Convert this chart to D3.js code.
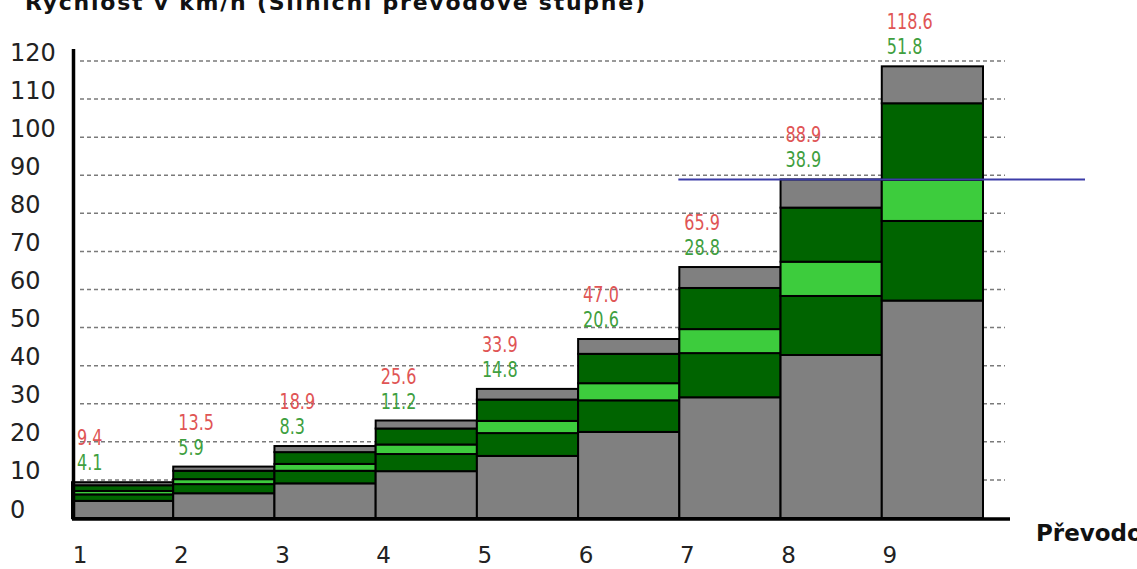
<!DOCTYPE html>
<html>
<head>
<meta charset="utf-8">
<script src="https://cdn.jsdelivr.net/npm/d3@7/dist/d3.min.js"></script>
<style>
  body { margin: 0; background: #fff; overflow: hidden; }
  svg { display: block; font-family: "DejaVu Sans", Verdana, sans-serif; }
</style>
</head>
<body>
<div id="chart"></div>
<script>
// gears and speeds (km/h)
const gears = ['1', '2', '3', '4', '5', '6', '7', '8', '9'];
const maxSpeed = [9.4, 13.5, 18.9, 25.6, 33.9, 47.0, 65.9, 88.9, 118.6];
const lowSpeed = [4.1, 5.9, 8.3, 11.2, 14.8, 20.6, 28.8, 38.9, 51.8];
// band boundaries inside each bar (bottom to top)
const grayTop = [4.5, 6.5, 9.1, 12.3, 16.3, 22.6, 31.7, 42.8, 57.1];
const darkLowTop = [6.2, 8.9, 12.4, 16.8, 22.3, 30.9, 43.3, 58.3, 78.0];
const lightTop = [7.1, 10.2, 14.2, 19.3, 25.5, 35.4, 49.6, 67.3, 88.8];
const darkHighTop = [8.6, 12.4, 17.3, 23.5, 31.1, 43.1, 60.4, 81.5, 108.9];
const yTicks = [0, 10, 20, 30, 40, 50, 60, 70, 80, 90, 100, 110, 120];
const limitSpeed = 88.9;
const limitFrom = '7';

const width = 1137, height = 569;
const segColors = ['#808080', '#006400', '#3dcc3d', '#006400', '#808080'];

const svg = d3.select('#chart').append('svg')
    .attr('width', width)
    .attr('height', height);

const x = d3.scaleBand()
    .domain(gears)
    .range([72, 983])
    .paddingInner(0)
    .paddingOuter(0);

const y = d3.scaleLinear()
    .domain([0, 120])
    .range([518, 61]);

// dashed grid
svg.append('g')
    .selectAll('line')
    .data(yTicks.filter(d => d > 0))
    .enter().append('line')
    .attr('x1', 80)
    .attr('x2', 1005)
    .attr('y1', d => y(d))
    .attr('y2', d => y(d))
    .attr('stroke', '#7a7a7a')
    .attr('stroke-width', 1.5)
    .attr('stroke-dasharray', '4,3');

// stacked segments per gear
const segments = [];
gears.forEach((g, i) => {
    const edges = [0, grayTop[i], darkLowTop[i], lightTop[i], darkHighTop[i], maxSpeed[i]];
    for (let k = 0; k < 5; k++) {
        segments.push({gear: g, y0: edges[k], y1: edges[k + 1], color: segColors[k]});
    }
});

svg.append('g')
    .selectAll('rect')
    .data(segments)
    .enter().append('rect')
    .attr('x', d => x(d.gear))
    .attr('width', x.bandwidth())
    .attr('y', d => y(d.y1))
    .attr('height', d => y(d.y0) - y(d.y1))
    .attr('fill', d => d.color)
    .attr('stroke', '#000')
    .attr('stroke-width', 2);

// blue reference line
svg.append('line')
    .attr('x1', x(limitFrom) - 1)
    .attr('x2', x.range()[1] + 102)
    .attr('y1', y(limitSpeed))
    .attr('y2', y(limitSpeed))
    .attr('stroke', '#3c3ca8')
    .attr('stroke-width', 2);

// axis lines
svg.append('line')
    .attr('x1', 73.5).attr('x2', 73.5)
    .attr('y1', 49).attr('y2', 520)
    .attr('stroke', '#000').attr('stroke-width', 3.5);
svg.append('line')
    .attr('x1', 72).attr('x2', 1010)
    .attr('y1', 519).attr('y2', 519)
    .attr('stroke', '#000').attr('stroke-width', 3.5);

// y tick labels
const yAxis = svg.append('g')
    .attr('transform', 'translate(10,0)')
    .call(d3.axisLeft(y).tickValues(yTicks).tickSize(0).tickPadding(0));
yAxis.select('.domain').remove();
yAxis.selectAll('text')
    .attr('text-anchor', 'start')
    .attr('x', 0)
    .attr('dy', -1)
    .attr('fill', '#222')
    .style('font-size', '24px')
    .style('font-family', '"DejaVu Sans", Verdana, sans-serif');

// x tick labels
const xAxis = svg.append('g')
    .attr('transform', 'translate(0,563)')
    .call(d3.axisBottom(x).tickSize(0).tickPadding(0));
xAxis.select('.domain').remove();
xAxis.selectAll('text')
    .attr('x', -(x.bandwidth() / 2 - 8))
    .attr('y', 0)
    .attr('dy', 0)
    .attr('fill', '#222')
    .style('font-size', '23px')
    .style('font-family', '"DejaVu Sans", Verdana, sans-serif');

// value labels above bars
const labels = svg.append('g');
gears.forEach((g, i) => {
    const top = y(maxSpeed[i]);
    labels.append('text')
        .attr('transform', `translate(${x(g) + 5},${top - 37}) scale(0.73,1)`)
        .attr('fill', '#e05555')
        .style('font-size', '22px')
        .text(maxSpeed[i].toFixed(1));
    labels.append('text')
        .attr('transform', `translate(${x(g) + 5},${top - 12}) scale(0.73,1)`)
        .attr('fill', '#3f9f3f')
        .style('font-size', '22px')
        .text(lowSpeed[i].toFixed(1));
});

// titles
svg.append('text')
    .attr('x', 25)
    .attr('y', 10)
    .attr('font-weight', 'bold')
    .attr('fill', '#111')
    .attr('textLength', 620)
    .attr('lengthAdjust', 'spacing')
    .style('font-size', '22px')
    .text('Rychlost v km/h (Silniční převodové stupně)');

svg.append('text')
    .attr('x', 1036)
    .attr('y', 541)
    .attr('font-weight', 'bold')
    .attr('fill', '#111')
    .style('font-size', '23px')
    .text('Převodový stupeň');
</script>
</body>
</html>
